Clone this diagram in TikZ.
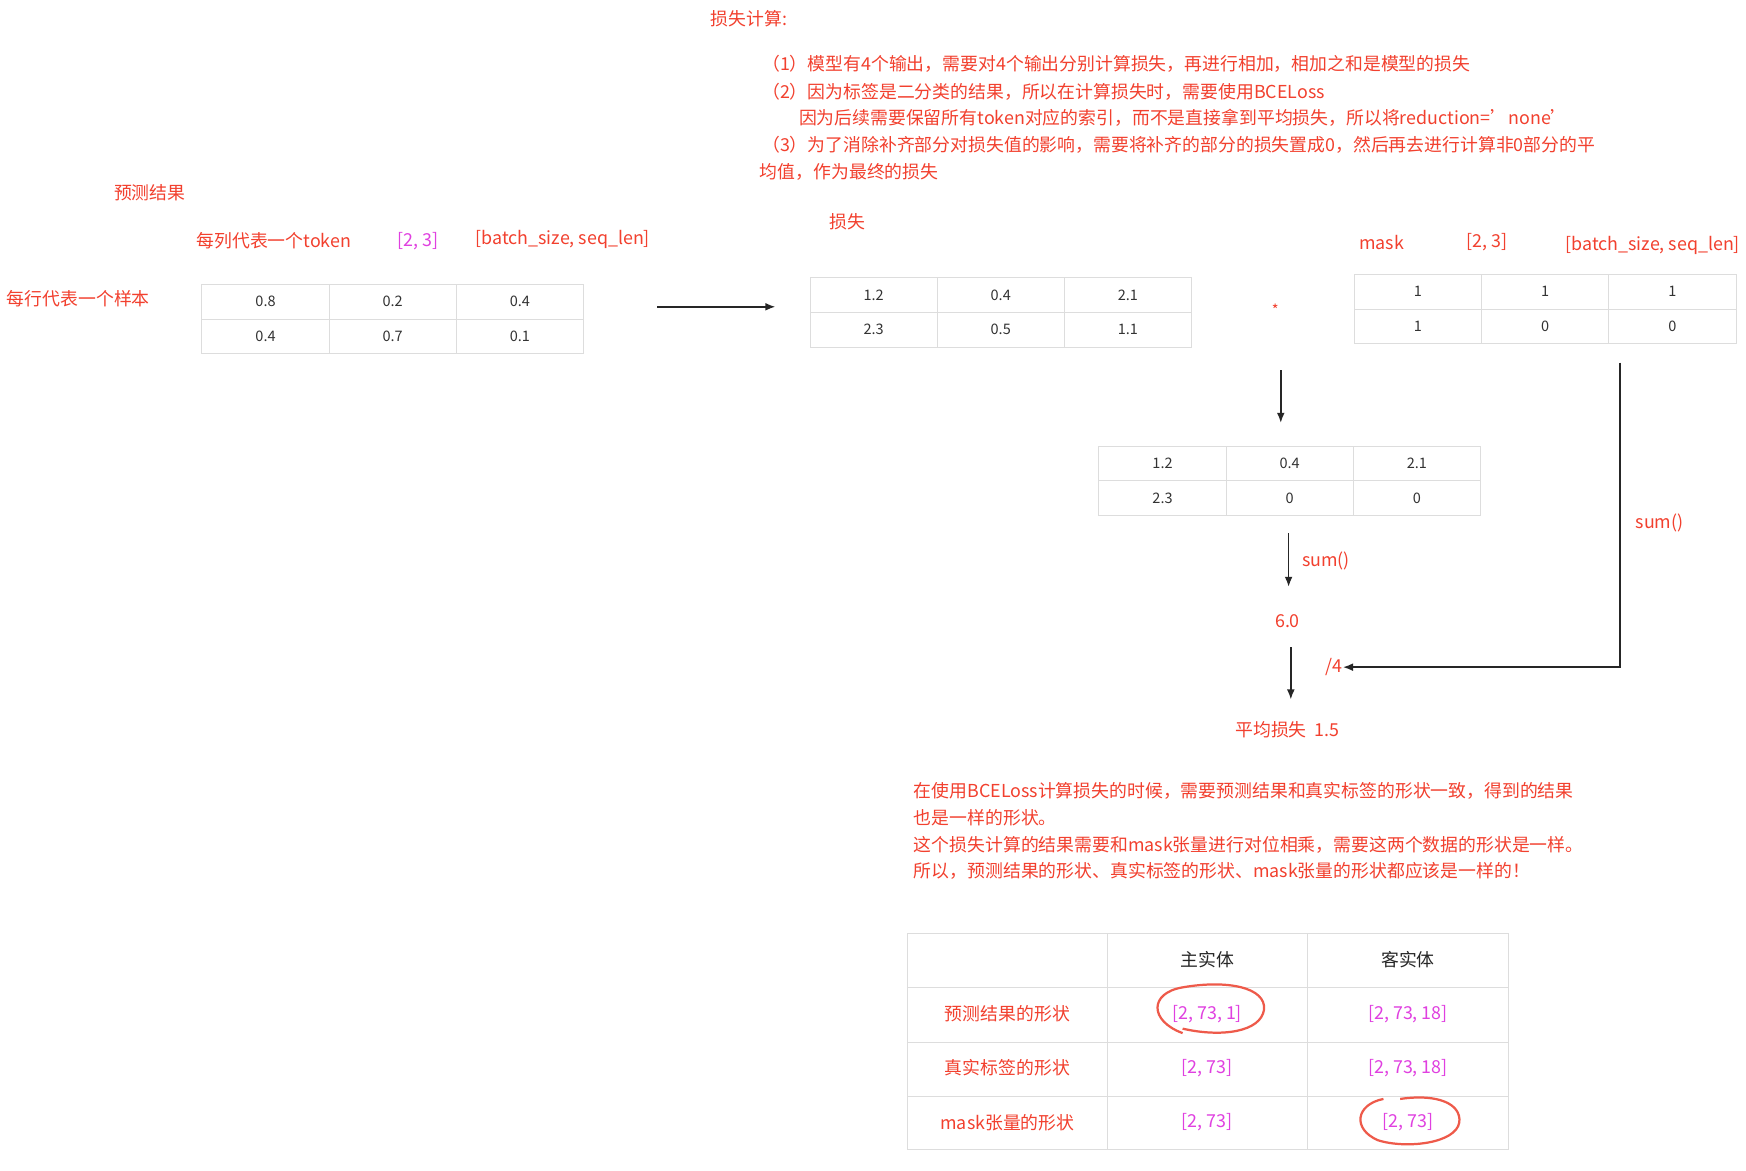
\documentclass[tikz,border=0pt]{standalone}
\usepackage{fontspec}
\setmainfont{Noto Sans CJK SC}
\usetikzlibrary{arrows.meta}
\definecolor{rd}{HTML}{F2402E}
\definecolor{mg}{HTML}{E040E0}
\definecolor{gl}{HTML}{DDDDDD}
\definecolor{cir}{HTML}{EE5A4A}
\tikzset{
 lbl/.style={text=rd,font=\fontsize{16}{20}\selectfont,inner sep=0pt},
 mlbl/.style={text=mg,font=\fontsize{16}{20}\selectfont,inner sep=0pt},
 cell/.style={font=\fontsize{13}{15}\selectfont,text=black!80,inner sep=0pt},
 grid/.style={draw=gl,line width=0.8pt},
 arr/.style={-{Latex[length=9pt,width=7pt]},line width=1.4pt,black!85},
 circ/.style={draw=cir,line width=2pt},
}
% \tbl{name}{x}{y}{a}{b}{c}{d}{e}{f}
\newcommand{\mytbl}[9]{%
 \draw[grid] (#2,#3) rectangle ++(342,62);
 \draw[grid] (#2,#3+31) -- ++(342,0);
 \draw[grid] (#2+114,#3) -- ++(0,62);
 \draw[grid] (#2+228,#3) -- ++(0,62);
 \node[cell] (#1a) at (#2+57,#3+15.5) {#4};
 \node[cell] (#1b) at (#2+171,#3+15.5) {#5};
 \node[cell] (#1c) at (#2+285,#3+15.5) {#6};
 \node[cell] (#1d) at (#2+57,#3+46.5) {#7};
 \node[cell] (#1e) at (#2+171,#3+46.5) {#8};
 \node[cell] (#1f) at (#2+285,#3+46.5) {#9};
 \coordinate (#1T) at (#2+171,#3);
 \coordinate (#1B) at (#2+171,#3+62);
 \coordinate (#1L) at (#2,#3+31);
 \coordinate (#1R) at (#2+342,#3+31);
}
\begin{document}
\begin{tikzpicture}[x=1pt,y=-1pt]
\useasboundingbox (0,0) rectangle (1565,1049);
\fill[white] (0,0) rectangle (1565,1049);
\node[lbl,anchor=west] (t0) at (637,17) {损失计算:};
\node[lbl,anchor=west] (t1) at (683,57) {（1）模型有4个输出，需要对4个输出分别计算损失，再进行相加，相加之和是模型的损失};
\node[lbl,anchor=west] (t2) at (683,82) {（2）因为标签是二分类的结果，所以在计算损失时，需要使用BCELoss};
\node[lbl,anchor=west] (t3) at (716,106) {因为后续需要保留所有token对应的索引，而不是直接拿到平均损失，所以将reduction='none'};
\node[lbl,anchor=west] (t4) at (683,130) {（3）为了消除补齐部分对损失值的影响，需要将补齐的部分的损失置成0，然后再去进行计算非0部分的平};
\node[lbl,anchor=west] (t5) at (681,154) {均值，作为最终的损失};
\node[lbl,anchor=west] (p0) at (102,173) {预测结果};
\node[lbl,anchor=west] (p1) at (176,216) {每列代表一个token};
\node[mlbl,anchor=west] (p2) at (356,216) {[2, 3]};
\node[lbl,anchor=west] (p3) at (426,215) {[batch\_size, seq\_len]};
\node[lbl,anchor=west] (p4) at (6,268) {每行代表一个样本};
\node[lbl,anchor=west] (l0) at (743,199) {损失};
\node[lbl,anchor=west] (m0) at (1218,217) {mask};
\node[lbl,anchor=west] (m1) at (1314,217) {[2, 3]};
\node[lbl,anchor=west] (m2) at (1403,220) {[batch\_size, seq\_len]};
\mytbl{P}{181}{255}{0.8}{0.2}{0.4}{0.4}{0.7}{0.1}
\mytbl{L}{726}{249}{1.2}{0.4}{2.1}{2.3}{0.5}{1.1}
\mytbl{M}{1214}{246}{1}{1}{1}{1}{0}{0}
\mytbl{R}{985}{400}{1.2}{0.4}{2.1}{2.3}{0}{0}
\node[text=rd,font=\fontsize{13}{15}\selectfont,inner sep=0pt] (star) at (1143,278) {*};
\coordinate (a1s) at (589,275); \coordinate (a1e) at (695,275);
\draw[arr] (a1s) -- (a1e);
\coordinate (a2s) at (1148,332); \coordinate (a2e) at (1148,379);
\draw[arr] (a2s) -- (a2e);
\coordinate (a3s) at (1155,478);
\node[lbl] (six) at (1154,557) {6.0};
\draw[arr] (a3s) -- (1155,526);
\node[lbl,anchor=west] (s1) at (1167,503) {sum()};
\node[lbl] (div) at (1196,598) {/4};
\coordinate (a4s) at (1157,580);
\draw[arr] (a4s) -- (1157,627);
\coordinate (ms) at (1452,325);
\draw[arr] (ms) |- (div.east);
\node[lbl,anchor=west] (s2) at (1466,469) {sum()};
\node[lbl] (avg) at (1154,654) {平均损失\ \ 1.5};
\node[lbl,anchor=west] (q1) at (819,709) {在使用BCELoss计算损失的时候，需要预测结果和真实标签的形状一致，得到的结果};
\node[lbl,anchor=west] (q2) at (819,733) {也是一样的形状。};
\node[lbl,anchor=west] (q3) at (819,757) {这个损失计算的结果需要和mask张量进行对位相乘，需要这两个数据的形状是一样。};
\node[lbl,anchor=west] (q4) at (819,781) {所以，预测结果的形状、真实标签的形状、mask张量的形状都应该是一样的！};
% bottom table
\draw[grid] (813,837) rectangle (1352,1030);
\foreach \yy in {885.5,934,982.5} \draw[grid] (813,\yy) -- (1352,\yy);
\foreach \xx in {993,1172} \draw[grid] (\xx,837) -- (\xx,1030);
\node[text=black!85,font=\fontsize{16}{20}\selectfont,inner sep=0pt] (h1) at (1082,860) {主实体};
\node[text=black!85,font=\fontsize{16}{20}\selectfont,inner sep=0pt] (h2) at (1262,860) {客实体};
\node[lbl] (r1) at (903,909) {预测结果的形状};
\node[lbl] (r2) at (903,957) {真实标签的形状};
\node[lbl] (r3) at (903,1006) {mask张量的形状};
\node[mlbl] (c11) at (1082,909) {[2, 73, 1]};
\node[mlbl] (c12) at (1262,909) {[2, 73, 18]};
\node[mlbl] (c21) at (1082,957) {[2, 73]};
\node[mlbl] (c22) at (1262,957) {[2, 73, 18]};
\node[mlbl] (c31) at (1082,1006) {[2, 73]};
\node[mlbl] (c32) at (1262,1006) {[2, 73]};
\draw[circ] (1060,926) .. controls (1030,915) and (1030,890) .. (1060,885) .. controls (1100,878) and (1135,885) .. (1133,905) .. controls (1130,925) and (1095,930) .. (1060,922);
\draw[circ] (1255,985) .. controls (1290,980) and (1310,990) .. (1308,1006) .. controls (1305,1025) and (1260,1030) .. (1235,1022) .. controls (1212,1012) and (1215,990) .. (1240,985);
\end{tikzpicture}
\end{document}
